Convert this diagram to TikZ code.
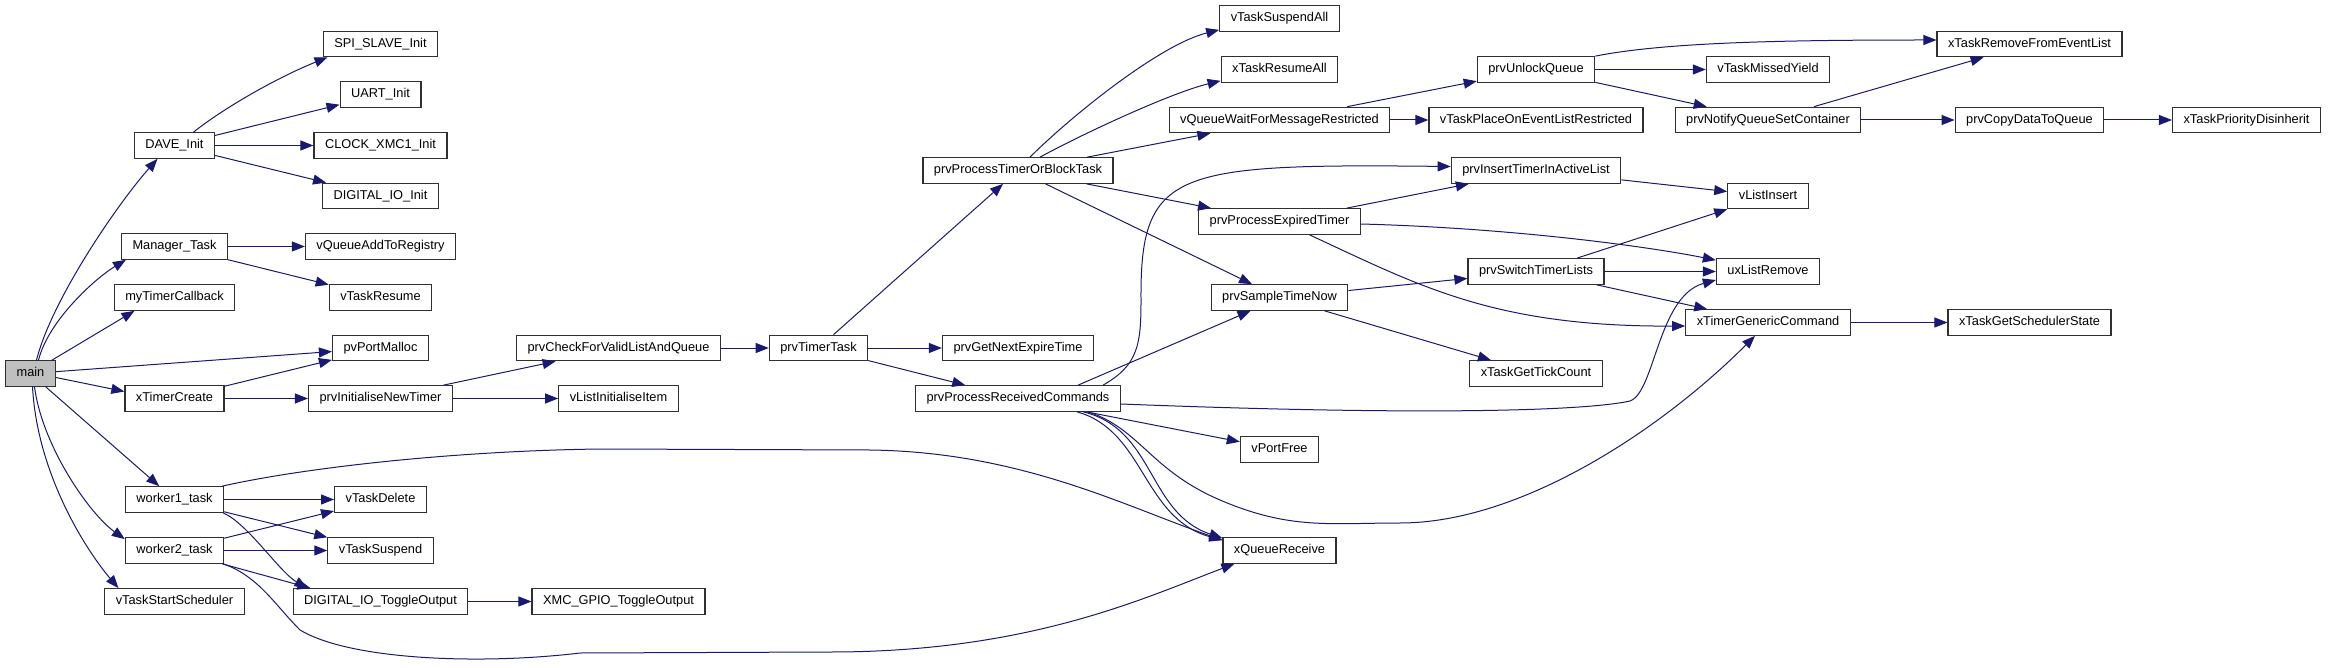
\documentclass[tikz,border=0pt]{standalone}
\usepackage{fontspec}
\setmainfont{Liberation Sans}
\usepackage{tikz}
\usetikzlibrary{arrows.meta}
\definecolor{cgline}{RGB}{48,48,48}
\definecolor{cgedge}{RGB}{25,25,112}
\definecolor{cgmain}{RGB}{191,191,191}
\tikzset{
  fn/.style   ={draw=cgline, line width=1.2pt, fill=white, font=\fontsize{12.8}{15}\selectfont,
                inner xsep=11pt, inner ysep=0pt, minimum height=25.5pt, text height=9.4pt, text depth=2.6pt},
  fnm/.style  ={fn, fill=cgmain},
  call/.style ={draw=cgedge, line width=1pt, -{Triangle[length=13pt,width=10pt]}},
}
\begin{document}
\begin{tikzpicture}[x=1pt,y=-1pt]
  \useasboundingbox (0,0) rectangle (2328,668);
  \node[fnm] (main) at (30.5,373.5) {main};
  \node[fn] (daveinit) at (174.5,145.5) {DAVE\_Init};
  \node[fn] (mgrtask) at (174.5,246.5) {Manager\_Task};
  \node[fn] (tmrcb) at (174.5,297.5) {myTimerCallback};
  \node[fn] (xtcreate) at (174.5,398.5) {xTimerCreate};
  \node[fn] (wrk1) at (174.5,499.5) {worker1\_task};
  \node[fn] (wrk2) at (174.5,550.5) {worker2\_task};
  \node[fn] (vtstart) at (174.5,601.5) {vTaskStartScheduler};
  \node[fn] (spislave) at (380.5,44) {SPI\_SLAVE\_Init};
  \node[fn] (uartinit) at (380.5,94.5) {UART\_Init};
  \node[fn] (clockinit) at (380.5,145.5) {CLOCK\_XMC1\_Init};
  \node[fn] (dioinit) at (380.5,196) {DIGITAL\_IO\_Init};
  \node[fn] (vqaddreg) at (380.5,246.5) {vQueueAddToRegistry};
  \node[fn] (vtresume) at (380.5,297.5) {vTaskResume};
  \node[fn] (pvmalloc) at (380.5,348) {pvPortMalloc};
  \node[fn] (prvinitnt) at (380.5,398.5) {prvInitialiseNewTimer};
  \node[fn] (vtdelete) at (380.5,499.5) {vTaskDelete};
  \node[fn] (vtsuspend) at (380.5,550.5) {vTaskSuspend};
  \node[fn] (diotoggle) at (380.5,601.5) {DIGITAL\_IO\_ToggleOutput};
  \node[fn] (prvcheck) at (618.5,348) {prvCheckForValidListAndQueue};
  \node[fn] (vlistinititem) at (618.5,398.5) {vListInitialiseItem};
  \node[fn] (xmctoggle) at (618.5,601.5) {XMC\_GPIO\_ToggleOutput};
  \node[fn] (prvtimertask) at (818.5,348) {prvTimerTask};
  \node[fn] (prvptobt) at (1018,170.5) {prvProcessTimerOrBlockTask};
  \node[fn] (prvgetnext) at (1018,348) {prvGetNextExpireTime};
  \node[fn] (prvprc) at (1018,398.5) {prvProcessReceivedCommands};
  \node[fn] (vtsuspendall) at (1279.5,18.5) {vTaskSuspendAll};
  \node[fn] (xtresumeall) at (1279.5,69.5) {xTaskResumeAll};
  \node[fn] (vqwait) at (1279.5,120) {vQueueWaitForMessageRestricted};
  \node[fn] (prvpet) at (1279.5,221.5) {prvProcessExpiredTimer};
  \node[fn] (prvsample) at (1279.5,297.5) {prvSampleTimeNow};
  \node[fn] (vportfree) at (1279.5,449.5) {vPortFree};
  \node[fn] (xqrecv) at (1279.5,550.5) {xQueueReceive};
  \node[fn] (prvunlock) at (1536,69.5) {prvUnlockQueue};
  \node[fn] (vtplace) at (1536,120) {vTaskPlaceOnEventListRestricted};
  \node[fn] (prvinsert) at (1536,170.5) {prvInsertTimerInActiveList};
  \node[fn] (prvswitch) at (1536,271.5) {prvSwitchTimerLists};
  \node[fn] (xtgettick) at (1536,373.5) {xTaskGetTickCount};
  \node[fn] (vtmissed) at (1768,69.5) {vTaskMissedYield};
  \node[fn] (prvnotify) at (1768,120) {prvNotifyQueueSetContainer};
  \node[fn] (vlistinsert) at (1768,196) {vListInsert};
  \node[fn] (uxlistremove) at (1768,271.5) {uxListRemove};
  \node[fn] (xtgeneric) at (1768,322.5) {xTimerGenericCommand};
  \node[fn] (xtremove) at (2029.5,44) {xTaskRemoveFromEventList};
  \node[fn] (prvcopy) at (2029.5,120) {prvCopyDataToQueue};
  \node[fn] (xtschedstate) at (2029.5,322.5) {xTaskGetSchedulerState};
  \node[fn] (xtprio) at (2246.5,120) {xTaskPriorityDisinherit};
  % calls from main
  \draw[call] ([xshift=6pt]main.north) .. controls +(15,-60) and +(-40,45) .. ([xshift=-17pt]daveinit.south);
  \draw[call] ([xshift=8pt]main.north) .. controls +(10,-40) and +(-30,18) .. ([xshift=5pt]mgrtask.south west);
  \draw[call] ([xshift=-4pt]main.north east) -- ([xshift=-40pt]tmrcb.south);
  \draw[call] (main) -- (pvmalloc);
  \draw[call] ([yshift=-4pt]main.east) -- ([yshift=7pt]xtcreate.west);
  \draw[call] (main) -- (wrk1);
  \draw[call] ([xshift=4pt]main.south) .. controls +(8,60) and +(-35,-25) .. ([yshift=-2pt]wrk2.north west);
  \draw[call] ([xshift=2pt]main.south) .. controls +(5,90) and +(-30,-35) .. ([xshift=-56pt]vtstart.north);
  \draw[call] ([xshift=19pt]daveinit.north) .. controls +(30,-24) and +(-50,20) .. ([xshift=-53pt]spislave.south);
  \draw[call] (daveinit) -- (uartinit);
  \draw[call] (daveinit) -- (clockinit);
  \draw[call] (daveinit) -- (dioinit);
  \draw[call] (mgrtask) -- (vqaddreg);
  \draw[call] (mgrtask) -- (vtresume);
  \draw[call] (xtcreate) -- (pvmalloc);
  \draw[call] (xtcreate) -- (prvinitnt);
  \draw[call] (prvinitnt) -- (prvcheck);
  \draw[call] (prvinitnt) -- (vlistinititem);
  \draw[call] (prvcheck) -- (prvtimertask);
  % workers
  \draw[call] ([xshift=-2pt]wrk1.north east) .. controls +(80,-18) and +(-150,2) .. (600,449) -- (870,450)
    .. controls +(150,2) and +(-100,-35) .. ([yshift=-3pt]xqrecv.north west);
  \draw[call] (wrk1) -- (vtdelete);
  \draw[call] (wrk1) -- (vtsuspend);
  \draw[call] ([xshift=-1pt]wrk1.south east) .. controls +(25,11) and +(-28,-16) .. ([xshift=-73pt]diotoggle.north);
  \draw[call] (wrk2) -- (vtdelete);
  \draw[call] (wrk2) -- (vtsuspend);
  \draw[call] ([xshift=-2pt]wrk2.south east) -- ([xshift=-70pt]diotoggle.north);
  \draw[call] ([xshift=-1pt]wrk2.south east) .. controls +(35,12) and +(-25,-25) .. (300,630)
    .. controls +(50,30) and +(-100,12) .. (580,653) -- (830,652)
    .. controls +(200,0) and +(-90,34) .. ([xshift=12pt]xqrecv.south west);
  \draw[call] (diotoggle) -- (xmctoggle);
  % timer task
  \draw[call] (prvtimertask) -- (prvptobt);
  \draw[call] (prvtimertask) -- (prvgetnext);
  \draw[call] (prvtimertask) -- (prvprc);
  \draw[call] ([xshift=12pt]prvptobt.north) .. controls +(40,-40) and +(-60,15) .. ([yshift=2pt]vtsuspendall.south west);
  \draw[call] ([xshift=22pt]prvptobt.north) .. controls +(40,-22) and +(-50,12) .. ([yshift=2pt]xtresumeall.south west);
  \draw[call] (prvptobt) -- (vqwait);
  \draw[call] (prvptobt) -- (prvpet);
  \draw[call] (prvptobt) -- (prvsample);
  \draw[call] (vqwait) -- (prvunlock);
  \draw[call] (vqwait) -- (vtplace);
  \draw[call] (prvunlock.north east) .. controls +(70,-14) and +(-150,0) .. ([yshift=4pt]xtremove.west);
  \draw[call] (prvunlock) -- (vtmissed);
  \draw[call] (prvunlock) -- (prvnotify);
  \draw[call] (prvnotify) -- (xtremove);
  \draw[call] (prvnotify) -- (prvcopy);
  \draw[call] (prvcopy) -- (xtprio);
  \draw[call] (prvpet) -- (prvinsert);
  \draw[call] ([yshift=-2.5pt]prvpet.east) .. controls +(150,4) and +(-70,-14) .. ([yshift=-2pt]uxlistremove.north west);
  \draw[call] ([xshift=30pt]prvpet.south) .. controls +(110,51) and +(-191,1) .. ([yshift=-3.5pt]xtgeneric.west);
  \draw[call] (prvinsert) -- (vlistinsert);
  \draw[call] (prvsample) -- (prvswitch);
  \draw[call] (prvsample) -- (xtgettick);
  \draw[call] (prvswitch) -- (vlistinsert);
  \draw[call] (prvswitch) -- (uxlistremove);
  \draw[call] (prvswitch) -- (xtgeneric);
  \draw[call] (xtgeneric) -- (xtschedstate);
  % received commands
  \draw[call] ([xshift=85pt]prvprc.north) .. controls +(35,-20) and +(0,45) .. (1141,300)
    .. controls +(-1,-130) and +(-277,-3) .. ([yshift=4pt]prvinsert.west);
  \draw[call] ([xshift=60pt]prvprc.north) -- ([xshift=-29pt]prvsample.south);
  \draw[call] ([yshift=-5.5pt]prvprc.east) .. controls +(280,11) and +(-50,11) .. (1630,401)
    .. controls +(25,-9) and +(-58,16) .. ([yshift=-8.5pt]uxlistremove.west);
  \draw[call] (prvprc) -- (vportfree);
  \draw[call] ([xshift=59pt]prvprc.south) .. controls +(68,19) and +(-80,-22) .. ([yshift=-3pt]xqrecv.north west);
  \draw[call] ([xshift=65pt]prvprc.south) .. controls +(72,17) and +(-75,-25) .. ([yshift=-1pt]xqrecv.north west);
  \draw[call] ([xshift=70pt]prvprc.south) .. controls +(52,17) and +(-70,-30) .. (1220,500)
    .. controls +(70,30) and +(-70,0) .. (1400,523)
    .. controls +(120,0) and +(-95,95) .. ([xshift=-13pt]xtgeneric.south);
\end{tikzpicture}
\end{document}
